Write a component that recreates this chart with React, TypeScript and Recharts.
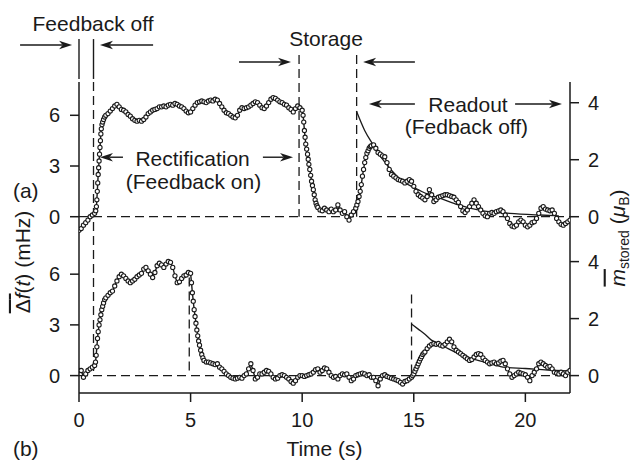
import { ComposedChart, Line, XAxis, YAxis, ReferenceLine, ReferenceDot } from "recharts";

const FONT = "'Liberation Sans', Arial, Helvetica, sans-serif";
const INK = "#1a1a1a";

// panel (a) is drawn above panel (b) on one shared scale, its zero lifted by this (mHz)
const OFFSET_A = 9.4;
// one µB on the right scale is this many mHz on the left one
const MU_TO_MHZ = 1.686;
const Y_MIN = -1.03;
const Y_MAX = 17.37;

const timeTicks = [0, 5, 10, 15, 20];
const freqTicks = [0, 3, 6];
const momentTicks = [0, 2, 4];

// [time (s), frequency shift (mHz)]
const panelA: [number, number][] = [
  [0, -0.8], [0.1, -0.7], [0.2, -0.5], [0.3, -0.35], [0.4, -0.2], [0.5, 0], [0.6, 0.1], [0.7, 0.2],
  [0.75, 0.35], [0.78, 0.6], [0.8, 1.0], [0.82, 1.5], [0.84, 2.0], [0.86, 2.5], [0.88, 2.9], [0.9, 3.3], [0.92, 3.7],
  [0.94, 4.1], [0.96, 4.5], [0.98, 4.9], [1.0, 5.2], [1.03, 5.45], [1.06, 5.6], [1.1, 5.75], [1.15, 5.9],
  [1.2, 6.0], [1.3, 6.1], [1.4, 6.25], [1.5, 6.4], [1.6, 6.55], [1.7, 6.65], [1.8, 6.5], [1.9, 6.35], [2.0, 6.3],
  [2.1, 6.2], [2.2, 6.05], [2.3, 5.95], [2.4, 5.8], [2.5, 5.7], [2.6, 5.65], [2.7, 5.7], [2.8, 5.65], [2.9, 5.75], [3.0, 5.9],
  [3.1, 6.1], [3.2, 6.2], [3.3, 6.3], [3.4, 6.35], [3.5, 6.4], [3.6, 6.5], [3.7, 6.5], [3.8, 6.55], [3.9, 6.5], [4.0, 6.6],
  [4.1, 6.65], [4.2, 6.6], [4.3, 6.7], [4.4, 6.65], [4.5, 6.55], [4.6, 6.5], [4.7, 6.4], [4.8, 6.25], [4.9, 6.15], [5.0, 6.2],
  [5.1, 6.4], [5.2, 6.6], [5.3, 6.75], [5.4, 6.8], [5.5, 6.85], [5.6, 6.8], [5.7, 6.75], [5.8, 6.85], [5.9, 6.9], [6.0, 6.85],
  [6.1, 6.95], [6.2, 6.9], [6.3, 6.7], [6.4, 6.5], [6.5, 6.3], [6.6, 6.15], [6.7, 6.1], [6.8, 6.0], [6.9, 5.9], [7.0, 5.85],
  [7.1, 6.0], [7.2, 6.3], [7.3, 6.45], [7.4, 6.4], [7.5, 6.45], [7.6, 6.5], [7.7, 6.6], [7.8, 6.7], [7.9, 6.8], [8.0, 6.75],
  [8.1, 6.6], [8.2, 6.45], [8.3, 6.4], [8.4, 6.55], [8.5, 6.75], [8.6, 6.95], [8.7, 7.05], [8.8, 7.0], [8.9, 6.9], [9.0, 6.8],
  [9.1, 6.75], [9.2, 6.65], [9.3, 6.6], [9.4, 6.45], [9.5, 6.35], [9.6, 6.2], [9.7, 6.4], [9.8, 6.55], [9.9, 6.45], [10.0, 6.3],
  [10.04, 6.0], [10.07, 5.6], [10.1, 5.1], [10.13, 4.7], [10.16, 4.3], [10.2, 4.0], [10.24, 3.7], [10.27, 3.4], [10.3, 3.1],
  [10.34, 2.8], [10.38, 2.45], [10.42, 2.1], [10.46, 1.85], [10.5, 1.6], [10.54, 1.3], [10.58, 1.0], [10.62, 0.8], [10.66, 0.65],
  [10.7, 0.55], [10.8, 0.4], [10.9, 0.35], [11.0, 0.5], [11.1, 0.4], [11.2, 0.3], [11.3, 0.45], [11.4, 0.3], [11.5, 0.4], [11.6, 0.7],
  [11.7, 0.4], [11.8, 0.2], [11.9, 0.3], [12.0, 0.0], [12.1, -0.2], [12.2, 0.1], [12.3, 0.3], [12.4, 0.5],
  [12.45, 0.7], [12.5, 0.9], [12.55, 1.2], [12.6, 1.5], [12.65, 1.9], [12.7, 2.4], [12.75, 2.8], [12.8, 3.2], [12.85, 3.5],
  [12.9, 3.75], [12.95, 3.9], [13.0, 4.05], [13.05, 4.15], [13.1, 4.2],
  [13.2, 4.25], [13.3, 4.05], [13.4, 3.8], [13.5, 3.7], [13.6, 3.6], [13.7, 3.55], [13.8, 3.2], [13.9, 2.8], [14.0, 2.5],
  [14.1, 2.4], [14.2, 2.3], [14.3, 2.2], [14.4, 2.15], [14.5, 2.1], [14.6, 2.0], [14.7, 2.1], [14.8, 2.2], [14.9, 2.1], [15.0, 1.8],
  [15.1, 1.5], [15.2, 1.3], [15.3, 1.2], [15.4, 1.1], [15.5, 1.0], [15.6, 1.2], [15.7, 1.6], [15.8, 1.3], [15.9, 0.9], [16.0, 1.0],
  [16.1, 1.15], [16.2, 1.2], [16.3, 1.25], [16.4, 1.3], [16.5, 1.3], [16.6, 1.25], [16.7, 1.2], [16.8, 1.15], [16.9, 1.0], [17.0, 0.85],
  [17.1, 0.6], [17.2, 0.35], [17.3, 0.25], [17.4, 0.4], [17.5, 0.6], [17.6, 0.8], [17.7, 1.0], [17.8, 0.8], [17.9, 0.6], [18.0, 0.4],
  [18.1, 0.2], [18.2, 0.05], [18.3, 0.0], [18.4, 0.2], [18.5, 0.25], [18.6, 0.2], [18.7, 0.3], [18.8, 0.35], [18.9, 0.4], [19.0, 0.3],
  [19.1, 0.1], [19.2, -0.1], [19.3, -0.4], [19.4, -0.55], [19.5, -0.6], [19.6, -0.5], [19.7, -0.3], [19.8, -0.2], [19.9, -0.3], [20.0, -0.5],
  [20.1, -0.6], [20.2, -0.5], [20.3, -0.35], [20.4, -0.3], [20.5, -0.1], [20.6, 0.2], [20.7, 0.5], [20.8, 0.6], [20.9, 0.45], [21.0, 0.4],
  [21.1, 0.35], [21.2, 0.4], [21.3, 0.2], [21.4, -0.1], [21.5, -0.3], [21.6, -0.45], [21.7, -0.5], [21.8, -0.4], [21.9, -0.3], [22.0, -0.2],
];

const panelB: [number, number][] = [
  [0, 0.3], [0.1, 0.3], [0.2, -0.1], [0.3, 0.1], [0.4, 0.3], [0.5, 0.4], [0.6, 0.5], [0.7, 0.6],
  [0.74, 0.8], [0.77, 1.2], [0.8, 1.7], [0.83, 2.2], [0.86, 2.6], [0.9, 3.0], [0.94, 3.3], [0.98, 3.6], [1.02, 3.9],
  [1.06, 4.1], [1.1, 4.3], [1.15, 4.5],
  [1.2, 4.6], [1.3, 4.75], [1.4, 4.9], [1.5, 5.0], [1.6, 5.3], [1.7, 5.6], [1.8, 5.85], [1.9, 6.0], [2.0, 5.9],
  [2.1, 5.75], [2.2, 5.6], [2.3, 5.5], [2.4, 5.6], [2.5, 5.7], [2.6, 5.85], [2.7, 5.95], [2.8, 6.05], [2.9, 6.3], [3.0, 6.4],
  [3.1, 6.2], [3.2, 6.0], [3.3, 5.8], [3.4, 6.1], [3.5, 6.5], [3.6, 6.65], [3.7, 6.55], [3.8, 6.4], [3.9, 6.6], [4.0, 6.75],
  [4.1, 6.7], [4.2, 6.4], [4.3, 5.9], [4.4, 5.5], [4.5, 5.55], [4.6, 5.75], [4.7, 5.9], [4.8, 5.95], [4.9, 6.1], [5.0, 6.05],
  [5.04, 5.5], [5.08, 4.9], [5.12, 4.4], [5.16, 3.9], [5.2, 3.5], [5.24, 3.1], [5.28, 2.7], [5.32, 2.35], [5.36, 2.05],
  [5.4, 1.8], [5.45, 1.5], [5.5, 1.25], [5.55, 1.05],
  [5.6, 0.9], [5.7, 0.8], [5.8, 0.8], [5.9, 0.75], [6.0, 0.7], [6.1, 0.65], [6.2, 0.7], [6.3, 0.5], [6.4, 0.4], [6.5, 0.25],
  [6.6, 0.1], [6.7, 0.0], [6.8, -0.1], [6.9, -0.15], [7.0, -0.2], [7.1, -0.15], [7.2, -0.1], [7.3, -0.15], [7.4, 0.0], [7.5, 0.1],
  [7.6, 0.4], [7.7, 0.7], [7.8, 0.3], [7.9, -0.2], [8.0, -0.1], [8.1, 0.1], [8.2, 0.1], [8.3, 0.2], [8.4, 0.3], [8.5, 0.25],
  [8.6, 0.1], [8.7, -0.1], [8.8, -0.2], [8.9, -0.15], [9.0, 0.0], [9.1, 0.05], [9.2, 0.0], [9.3, -0.1], [9.4, -0.2], [9.5, -0.35],
  [9.6, -0.45], [9.7, -0.3], [9.8, -0.1], [9.9, 0.0], [10.0, 0.0], [10.1, -0.05], [10.2, 0.0], [10.3, 0.05], [10.4, 0.1], [10.5, 0.2],
  [10.6, 0.35], [10.7, 0.4], [10.8, 0.2], [10.9, 0.3], [11.0, 0.45], [11.1, 0.4], [11.2, 0.2], [11.3, 0.0], [11.4, -0.1], [11.5, -0.05],
  [11.6, -0.2], [11.7, 0.0], [11.8, 0.1], [11.9, 0.05], [12.0, 0.1], [12.1, -0.1], [12.2, -0.3], [12.3, -0.2], [12.4, 0.0], [12.5, 0.05],
  [12.6, 0.1], [12.7, 0.15], [12.8, 0.1], [12.9, 0.0], [13.0, 0.05], [13.1, -0.1], [13.2, -0.1], [13.3, -0.3], [13.4, -0.6], [13.5, -0.2],
  [13.6, 0.0], [13.7, 0.05], [13.8, -0.05], [13.9, -0.1], [14.0, -0.15], [14.1, -0.2], [14.2, -0.25], [14.3, -0.3], [14.4, -0.4], [14.5, -0.5],
  [14.6, -0.35], [14.7, -0.3], [14.8, -0.2], [14.9, -0.1],
  [14.95, 0.0], [15.0, 0.1], [15.05, 0.25], [15.1, 0.4], [15.15, 0.55], [15.2, 0.7], [15.25, 0.85], [15.3, 1.0], [15.35, 1.12],
  [15.4, 1.25], [15.45, 1.33], [15.5, 1.4], [15.6, 1.6], [15.7, 1.75],
  [15.8, 1.85], [15.9, 1.9], [16.0, 1.85], [16.1, 1.9], [16.2, 1.8], [16.3, 1.75], [16.4, 1.85], [16.5, 2.0], [16.6, 2.15], [16.7, 2.0],
  [16.8, 1.7], [16.9, 1.5], [17.0, 1.4], [17.1, 1.3], [17.2, 1.2], [17.3, 1.1], [17.4, 1.0], [17.5, 0.9], [17.6, 0.95], [17.7, 1.1],
  [17.8, 1.25], [17.9, 1.3], [18.0, 1.25], [18.1, 1.05], [18.2, 0.9], [18.3, 0.8], [18.4, 0.7], [18.5, 0.75], [18.6, 0.8], [18.7, 0.7],
  [18.8, 0.75], [18.9, 0.85], [19.0, 0.9], [19.1, 0.7], [19.2, 0.4], [19.3, 0.1], [19.4, -0.1], [19.5, 0.0], [19.6, 0.1], [19.7, 0.2],
  [19.8, 0.15], [19.9, 0.1], [20.0, 0.05], [20.1, -0.1], [20.2, -0.3], [20.3, 0.0], [20.4, 0.2], [20.5, 0.4], [20.6, 0.7], [20.7, 0.8],
  [20.8, 0.7], [20.9, 0.6], [21.0, 0.5], [21.1, 0.55], [21.2, 0.4], [21.3, 0.2], [21.4, 0.15], [21.5, 0.1], [21.6, 0.2], [21.7, 0.1],
  [21.8, 0.0], [21.9, 0.2], [22.0, 0.3],
];

// decay fits drawn through the readout windows
const fitA: [number, number][] = [
  [12.43, 6.25], [12.8, 5.1], [13.18, 4.25], [13.6, 3.4], [14.0, 2.75], [14.5, 2.1], [15.05, 1.7], [15.6, 1.35],
  [16.17, 1.1], [17.0, 0.7], [18.1, 0.35], [19.3, 0.2], [20.65, 0.1], [21.5, 0.05],
];
const fitB: [number, number][] = [
  [14.9, 3.05], [15.2, 2.75], [15.5, 2.45], [15.79, 2.1], [16.0, 1.95], [16.54, 1.6], [17.0, 1.3], [17.5, 1.05],
  [18.0, 0.85], [18.6, 0.65], [19.0, 0.5], [20.0, 0.42], [21.0, 0.33], [21.9, 0.28],
];

const toRows = (pts: [number, number][], lift: number) => pts.map(([t, f]) => ({ t, f: f + lift }));

const tickStyle = { fontFamily: FONT, fontSize: 20, fill: INK };
const textStyle = { fontFamily: FONT, fontSize: 21, fill: INK };

const arrowShape = (p: any) => {
  const { x1, y1, x2, y2 } = p;
  const a = Math.atan2(y2 - y1, x2 - x1);
  const c = Math.cos(a);
  const s = Math.sin(a);
  const L = 13;
  const W = 4.2;
  const bx = x2 - L * c;
  const by = y2 - L * s;
  const nx = x2 - L * 0.72 * c;
  const ny = y2 - L * 0.72 * s;
  const pts = `${x2},${y2} ${bx - W * s},${by + W * c} ${nx},${ny} ${bx + W * s},${by - W * c}`;
  return (
    <g>
      <line x1={x1} y1={y1} x2={nx} y2={ny} stroke={INK} strokeWidth={1.4} />
      <polygon points={pts} fill={INK} />
    </g>
  );
};

const label = (text: string, anchor: "middle" | "start" = "middle") => (p: any) => (
  <text x={p.cx} y={p.cy} textAnchor={anchor} {...textStyle}>
    {text}
  </text>
);

const leftTitle = (p: any) => (
  <text x={p.cx} y={p.cy} textAnchor="middle" transform={`rotate(-90 ${p.cx} ${p.cy})`} {...textStyle}>
    <tspan textDecoration="overline">
      Δ<tspan fontStyle="italic">f</tspan>
    </tspan>
    (<tspan fontStyle="italic">t</tspan>) (mHz)
  </text>
);

const rightTitle = (p: any) => (
  <text x={p.cx} y={p.cy} textAnchor="middle" transform={`rotate(-90 ${p.cx} ${p.cy})`} {...textStyle}>
    <tspan fontStyle="italic" textDecoration="overline">m</tspan>
    <tspan fontSize={14} dy={4}>stored</tspan>
    <tspan dy={-4}> (</tspan>
    <tspan fontStyle="italic">μ</tspan>
    <tspan fontSize={14} dy={4}>B</tspan>
    <tspan dy={-4}>)</tspan>
  </text>
);

const arrows: [number, number, number, number][] = [
  [-2.64, 19.56, -0.31, 19.56],
  [3.32, 19.56, 0.94, 19.56],
  [7.17, 18.55, 9.5, 18.55],
  [15.05, 18.55, 12.73, 18.55],
  [1.97, 12.92, 0.94, 12.92],
  [8.24, 12.92, 9.59, 12.92],
  [15.05, 16.07, 12.99, 16.07],
  [19.54, 16.07, 21.64, 16.07],
];

const dashedMarks: [number, number, number][] = [
  [0.65, Y_MAX, 0],
  [9.86, 18.97, OFFSET_A],
  [12.44, 18.97, OFFSET_A],
  [4.94, 5.8, 0],
  [14.9, 4.8, 0],
];

const solidMarks: [number, number, number][] = [
  [0, 19.91, 17.55],
  [0.65, 19.91, 17.55],
];

const notes: [number, number, string, "middle" | "start"][] = [
  [0.63, 20.39, "Feedback off", "middle"],
  [11.07, 19.5, "Storage", "middle"],
  [5.09, 12.42, "Rectification", "middle"],
  [5.13, 11.04, "(Feedback on)", "middle"],
  [17.43, 15.61, "Readout", "middle"],
  [17.36, 14.29, "(Fedback off)", "middle"],
  [-2.96, 10.51, "(a)", "start"],
  [-2.96, -4.76, "(b)", "start"],
  [11.0, -4.76, "Time (s)", "middle"],
];

export default function App() {
  const leftTicks = [...freqTicks, ...freqTicks.map((v) => v + OFFSET_A)];
  const muLift = OFFSET_A / MU_TO_MHZ;
  const rightTicks = [...momentTicks, ...momentTicks.map((v) => v + muLift)];
  const dots = { r: 2.1, fill: "#fff", stroke: INK, strokeWidth: 1.1 };

  return (
    <div style={{ position: "absolute", left: 0, top: 0, width: 635, height: 463, background: "#fff" }}>
      <ComposedChart width={635} height={463} margin={{ top: 82, right: 0, bottom: 40, left: 0 }}>
        <XAxis
          type="number"
          dataKey="t"
          domain={[0, 22]}
          allowDataOverflow
          ticks={timeTicks}
          tickSize={9}
          tickMargin={11}
          height={30}
          axisLine={{ stroke: INK, strokeWidth: 1.5 }}
          tickLine={{ stroke: INK, strokeWidth: 1.5 }}
          tick={tickStyle}
        />
        <YAxis
          yAxisId="L"
          type="number"
          domain={[Y_MIN, Y_MAX]}
          allowDataOverflow
          ticks={leftTicks}
          tickFormatter={(v: number) => String(Math.round(v > OFFSET_A - 2 ? v - OFFSET_A : v))}
          width={79}
          tickSize={9}
          tickMargin={10}
          axisLine={{ stroke: INK, strokeWidth: 1.5 }}
          tickLine={{ stroke: INK, strokeWidth: 1.5 }}
          tick={tickStyle}
        />
        <YAxis
          yAxisId="R"
          orientation="right"
          type="number"
          domain={[Y_MIN / MU_TO_MHZ, Y_MAX / MU_TO_MHZ]}
          allowDataOverflow
          ticks={rightTicks}
          tickFormatter={(v: number) => String(Math.round(v > muLift - 1 ? v - muLift : v))}
          width={65}
          tickSize={9}
          tickMargin={9}
          axisLine={{ stroke: INK, strokeWidth: 1.5 }}
          tickLine={{ stroke: INK, strokeWidth: 1.5 }}
          tick={tickStyle}
        />

        <ReferenceLine yAxisId="L" y={0} stroke={INK} strokeWidth={1.3} strokeDasharray="9 5" />
        <ReferenceLine yAxisId="L" y={OFFSET_A} stroke={INK} strokeWidth={1.3} strokeDasharray="9 5" />
        {dashedMarks.map(([t, y1, y2], i) => (
          <ReferenceLine
            key={`d${i}`}
            yAxisId="L"
            ifOverflow="visible"
            segment={[{ x: t, y: y1 }, { x: t, y: y2 }]}
            stroke={INK}
            strokeWidth={1.3}
            strokeDasharray="9 5"
          />
        ))}
        {solidMarks.map(([t, y1, y2], i) => (
          <ReferenceLine
            key={`s${i}`}
            yAxisId="L"
            ifOverflow="visible"
            segment={[{ x: t, y: y1 }, { x: t, y: y2 }]}
            stroke={INK}
            strokeWidth={1.4}
          />
        ))}
        {arrows.map(([xa, ya, xb, yb], i) => (
          <ReferenceLine
            key={`a${i}`}
            yAxisId="L"
            ifOverflow="visible"
            segment={[{ x: xa, y: ya }, { x: xb, y: yb }]}
            shape={arrowShape}
          />
        ))}

        <Line
          yAxisId="L"
          data={toRows(panelA, OFFSET_A)}
          dataKey="f"
          type="linear"
          stroke={INK}
          strokeWidth={1.4}
          dot={dots}
          isAnimationActive={false}
        />
        <Line
          yAxisId="L"
          data={toRows(panelB, 0)}
          dataKey="f"
          type="linear"
          stroke={INK}
          strokeWidth={1.4}
          dot={dots}
          isAnimationActive={false}
        />
        <Line
          yAxisId="L"
          data={toRows(fitA, OFFSET_A)}
          dataKey="f"
          type="monotone"
          stroke={INK}
          strokeWidth={1.3}
          dot={false}
          isAnimationActive={false}
        />
        <Line
          yAxisId="L"
          data={toRows(fitB, 0)}
          dataKey="f"
          type="monotone"
          stroke={INK}
          strokeWidth={1.3}
          dot={false}
          isAnimationActive={false}
        />

        {notes.map(([t, y, text, anchor], i) => (
          <ReferenceDot key={`n${i}`} yAxisId="L" x={t} y={y} ifOverflow="visible" shape={label(text, anchor)} />
        ))}
        <ReferenceDot yAxisId="L" x={-2.2} y={6.72} ifOverflow="visible" shape={leftTitle} />
        <ReferenceDot yAxisId="L" x={24.45} y={8.14} ifOverflow="visible" shape={rightTitle} />
      </ComposedChart>
    </div>
  );
}
